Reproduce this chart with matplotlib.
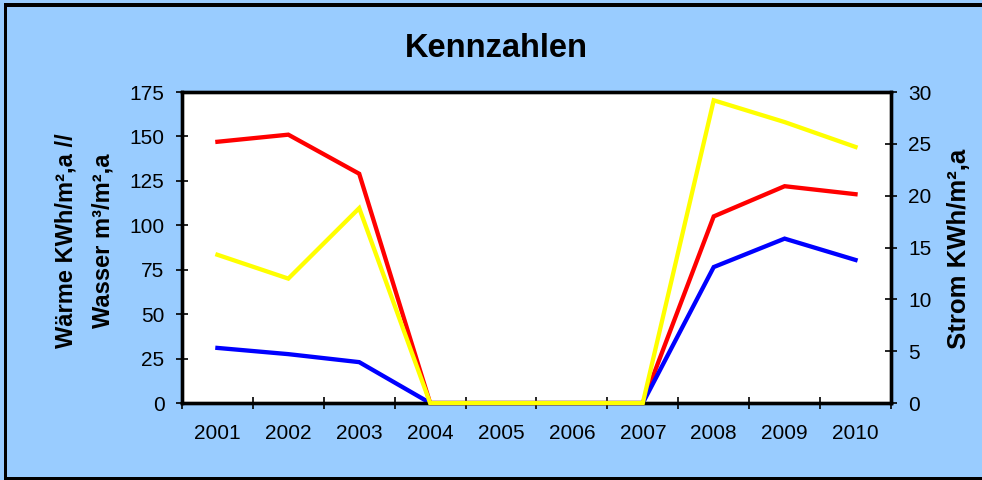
import matplotlib.pyplot as plt
from matplotlib.patches import Rectangle
import numpy as np

plt.rcParams['font.family'] = ['Liberation Sans', 'DejaVu Sans']

# Kennzahlen 2001-2010
years = ["2001", "2002", "2003", "2004", "2005", "2006", "2007", "2008", "2009", "2010"]
waerme = [147, 151, 129, 0, 0, 0, 0, 105, 122, 117.5]   # KWh/m²,a (linke Achse)
wasser = [31, 27.5, 23, 0, 0, 0, 0, 76.5, 92.5, 80.5]   # m³/m²,a (linke Achse)
strom = [14.3, 12.0, 18.8, 0, 0, 0, 0, 29.2, 27.1, 24.7]  # KWh/m²,a (rechte Achse)

bg = "#99CCFF"
fig = plt.figure(figsize=(9.82, 4.80), dpi=100, facecolor=bg)
ax = fig.add_axes([0.1853, 0.1604, 0.7220, 0.6479])
ax.set_facecolor("white")
ax2 = ax.twinx()

x = np.arange(len(years))
ax.plot(x, waerme, color="#FF0000", lw=3.1, solid_joinstyle="miter", zorder=3, clip_on=False)
ax.plot(x, wasser, color="#0000FF", lw=3.1, solid_joinstyle="miter", zorder=3, clip_on=False)
ax2.plot(x, strom, color="#FFFF00", lw=3.1, solid_joinstyle="miter", zorder=3, clip_on=False)

ax.set_xlim(-0.5, len(years) - 0.5)
ax.set_ylim(0, 175)
ax2.set_ylim(0, 30)
ax.set_yticks(np.arange(0, 176, 25))
ax2.set_yticks(np.arange(0, 31, 5))

# tick marks between the years, labels centred on each year
ax.set_xticks(np.arange(-0.5, len(years), 1))
ax.set_xticklabels([])
ax.set_xticks(x, minor=True)
ax.set_xticklabels(years, minor=True)
ax.tick_params(axis="x", which="major", direction="inout", length=9, width=1.2)
ax.tick_params(axis="x", which="minor", length=0, pad=15, labelsize=15)
ax.tick_params(axis="y", direction="inout", length=9, width=1.2, pad=8, labelsize=15)
ax2.tick_params(axis="y", direction="inout", length=9, width=1.2, pad=8, labelsize=15)

for a in (ax, ax2):
    for s in a.spines.values():
        s.set_linewidth(2.4)
        s.set_color("black")

ax.set_ylabel("Wärme KWh/m²,a //\nWasser m³/m²,a", fontsize=17, fontweight="bold",
              multialignment="center", linespacing=1.8)
ax.yaxis.set_label_coords(-0.095, 0.521)
ax2.set_ylabel("Strom KWh/m²,a", fontsize=18.5, fontweight="bold")
ax2.yaxis.set_label_coords(1.079, 0.497)

fig.text(0.505, 0.881, "Kennzahlen", fontsize=23.5, fontweight="bold",
         ha="center", va="baseline")

# outer chart frame: top, left and bottom bars (open on the right)
W, H = 982.0, 480.0
for x0, y0, w, h in [(4, 473, 978, 4), (4, 0, 3, 477), (4, 0, 978, 3)]:
    fig.patches.append(Rectangle((x0 / W, y0 / H), w / W, h / H, transform=fig.transFigure,
                                 facecolor="black", edgecolor="none"))

fig.savefig("out.png", dpi=100, facecolor=bg)
